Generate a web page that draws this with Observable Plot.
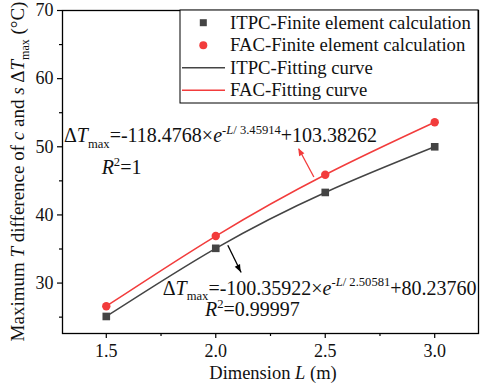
<!DOCTYPE html>
<html><head><meta charset="utf-8">
<script src="https://cdn.jsdelivr.net/npm/d3@7"></script>
<script src="https://cdn.jsdelivr.net/npm/@observablehq/plot@0.6"></script>
<style>
body{margin:0;background:#fff;}
#chart svg{display:block;}
#chart svg text{font-family:"Liberation Serif","Times New Roman",serif;}
</style></head><body><div id="chart"></div>
<script>
// ---- data ----
const dimension = [1.5, 2.0, 2.5, 3.0];
const itpcValues = [25.1, 35.1, 43.3, 50.0];
const facValues = [26.6, 36.9, 45.9, 53.6];
const xTicks = [1.5, 2.0, 2.5, 3.0];
const xMinorTicks = [1.75, 2.25, 2.75];
const yTicks = [30, 40, 50, 60, 70];
const yMinorTicks = [25, 35, 45, 55, 65];
const legendLabels = ["ITPC-Finite element calculation", "FAC-Finite element calculation", "ITPC-Fitting curve", "FAC-Fitting curve"];
// annotation anchors (data units)
const annX = [1.309, 1.481, 1.76, 1.953];
const annY = [50.6, 45.9, 28.2, 25.1];
const arrowX1 = [2.448, 2.055], arrowY1 = [45.56, 35.54];
const arrowX2 = [2.379, 2.116], arrowY2 = [49.72, 31.54];

const FONT = '"Liberation Serif","Times New Roman",serif';
const GRAY = "#444444", RED = "#f23c3c";

const itpc = dimension.map((d, i) => ({x: d, y: itpcValues[i]}));
const fac = dimension.map((d, i) => ({x: d, y: facValues[i]}));
const arrows = arrowX1.map((d, i) => ({x1: d, y1: arrowY1[i], x2: arrowX2[i], y2: arrowY2[i], c: i === 0 ? RED : "#000"}));

const annSegs = [
  [{t:"Δ"},{t:"T",it:1},{t:"max",sub:1},{t:"=-118.4768×"},{t:"e",it:1},{t:"-",sup:1},{t:"L",sup:1,it:1},{t:"/ 3.45914",sup:1},{t:"+103.38262"}],
  [{t:"R",it:1},{t:"2",sup:1},{t:"=1"}],
  [{t:"Δ"},{t:"T",it:1},{t:"max",sub:1},{t:"=-100.35922×"},{t:"e",it:1},{t:"-",sup:1},{t:"L",sup:1,it:1},{t:"/ 2.50581",sup:1},{t:"+80.23760"}],
  [{t:"R",it:1},{t:"2",sup:1},{t:"=0.99997"}]
];

function rich(parent, segs, x, y, size, anchor, extra) {
  const t = parent.append("text").attr("x", x).attr("y", y)
    .attr("font-size", size).attr("fill", "#111")
    .attr("text-anchor", anchor || "start");
  if (extra) extra(t);
  let shift = 0;
  segs.forEach(s => {
    const ts = t.append("tspan").text(s.t);
    let target = 0, fs = size;
    if (s.sub) { target = size * 0.28; fs = size * 0.63; }
    if (s.sup) { target = -size * 0.42; fs = size * 0.63; }
    ts.attr("font-size", fs);
    if (target !== shift) { ts.attr("dy", target - shift); shift = target; }
    if (s.it) ts.attr("font-style", "italic");
  });
  return t;
}

function overlay(index, scales, values, dims) {
  const g = d3.create("svg:g").attr("text-anchor", "start");
  const {width, height, marginLeft, marginRight, marginTop, marginBottom} = dims;
  const right = width - marginRight;
  // arrow heads (filled)
  arrows.forEach(a => {
    const x1 = scales.x(a.x1), y1 = scales.y(a.y1), x2 = scales.x(a.x2), y2 = scales.y(a.y2);
    const ang = Math.atan2(y2 - y1, x2 - x1), L = 8, w = 0.38;
    const p = [[x2, y2],
      [x2 - L * Math.cos(ang - w), y2 - L * Math.sin(ang - w)],
      [x2 - L * Math.cos(ang + w), y2 - L * Math.sin(ang + w)]];
    g.append("path").attr("d", "M" + p.map(q => q.join(",")).join("L") + "Z").attr("fill", a.c);
  });
  // legend
  const lx = right - 298, ly = marginTop, lh = 93;
  g.append("rect").attr("x", lx).attr("y", ly).attr("width", right - lx).attr("height", lh)
    .attr("fill", "white").attr("stroke", "#000").attr("stroke-width", 1);
  const rowY = i => ly + 12.7 + i * 22.5;
  g.append("rect").attr("x", lx + 23.3 - 3.5).attr("y", rowY(0) - 3.5).attr("width", 7).attr("height", 7).attr("fill", GRAY);
  g.append("circle").attr("cx", lx + 23.3).attr("cy", rowY(1)).attr("r", 4).attr("fill", RED);
  g.append("line").attr("x1", lx + 2).attr("x2", lx + 45).attr("y1", rowY(2)).attr("y2", rowY(2)).attr("stroke", GRAY).attr("stroke-width", 1.5);
  g.append("line").attr("x1", lx + 2).attr("x2", lx + 45).attr("y1", rowY(3)).attr("y2", rowY(3)).attr("stroke", RED).attr("stroke-width", 1.5);
  legendLabels.forEach((s, i) => {
    g.append("text").attr("x", lx + 50).attr("y", rowY(i)).attr("dy", "0.33em").attr("text-anchor", "start")
      .attr("font-size", 18.7).attr("fill", "#111").text(s);
  });
  // annotations
  annSegs.forEach((segs, i) => rich(g, segs, scales.x(annX[i]), scales.y(annY[i]), 20, "start"));
  // x title
  rich(g, [{t:"Dimension "},{t:"L",it:1},{t:" (m)"}], (marginLeft + right) / 2 + 3, height - 5, 18.5, "middle");
  // y title
  const cy = (marginTop + height - marginBottom) / 2;
  rich(g, [{t:"Maximum "},{t:"T",it:1},{t:" difference of "},{t:"c",it:1},{t:" and "},{t:"s",it:1},{t:" Δ"},{t:"T",it:1},{t:"max",sub:1},{t:" (°C)"}],
    0, 0, 19, "middle", t => t.attr("transform", `translate(${24},${cy}) rotate(-90)`));
  return g.node();
}

const axisStyle = {stroke: "#000", strokeWidth: 1.2, fill: "#111"};
const chart = Plot.plot({
  width: 480, height: 384,
  marginLeft: 62, marginRight: 2, marginTop: 10, marginBottom: 51,
  style: {fontFamily: FONT, background: "white", color: "#111"},
  x: {domain: [1.3, 3.2]},
  y: {domain: [22.6, 70]},
  marks: [
    Plot.axisX({ticks: xTicks, tickFormat: d3.format(".1f"), tickSize: 5, tickPadding: 6, fontSize: 18, label: null, ...axisStyle}),
    Plot.axisX({ticks: xMinorTicks, tickSize: 3, text: null, label: null, ...axisStyle}),
    Plot.axisY({ticks: yTicks, tickSize: 5, tickPadding: 4, fontSize: 18, label: null, ...axisStyle}),
    Plot.axisY({ticks: yMinorTicks, tickSize: 3, text: null, label: null, ...axisStyle}),
    Plot.line(itpc, {x: "x", y: "y", curve: "natural", stroke: GRAY, strokeWidth: 1.5}),
    Plot.line(fac, {x: "x", y: "y", curve: "natural", stroke: RED, strokeWidth: 1.5}),
    Plot.dot(itpc, {x: "x", y: "y", symbol: "square", r: 4.3, fill: GRAY}),
    Plot.dot(fac, {x: "x", y: "y", r: 4.2, fill: RED}),
    Plot.link(arrows, {x1: "x1", y1: "y1", x2: "x2", y2: "y2", stroke: "c", strokeWidth: 1.3}),
    Plot.frame({stroke: "#000", strokeWidth: 1.3}),
    overlay
  ]
});
document.getElementById("chart").append(chart);
</script></body></html>
